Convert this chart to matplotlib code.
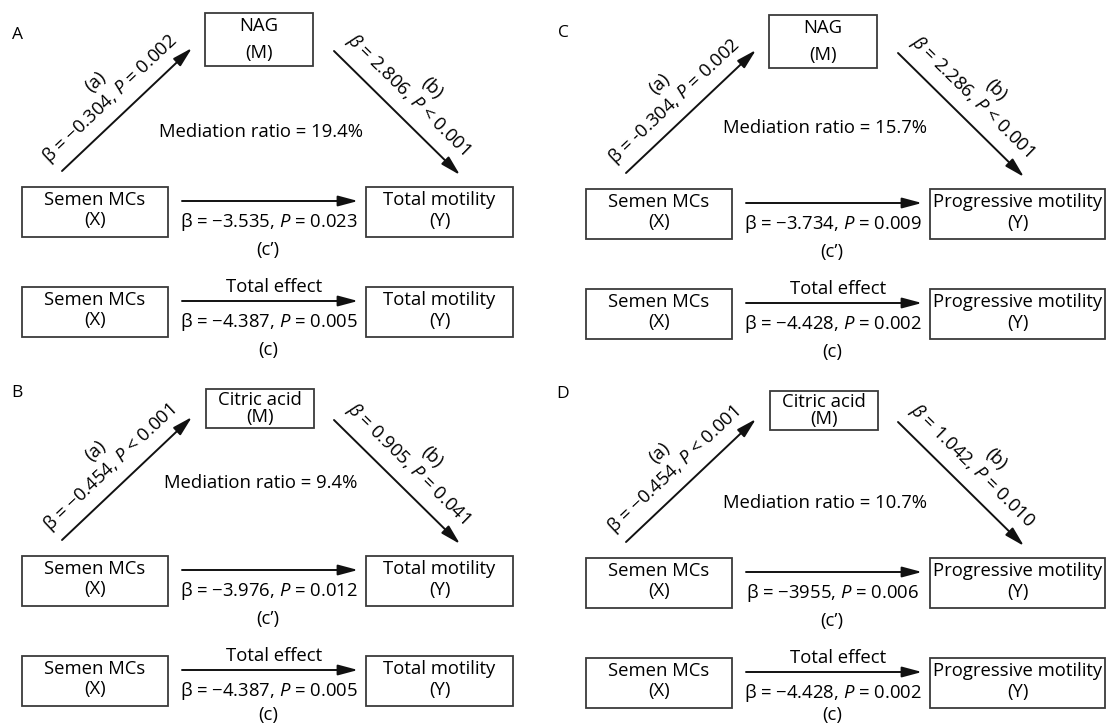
import math
import matplotlib
matplotlib.use('Agg')
import matplotlib.pyplot as plt
from matplotlib.patches import Rectangle

plt.rcParams['font.family'] = ['Open Sans', 'DejaVu Sans']
plt.rcParams['mathtext.fontset'] = 'custom'
plt.rcParams['mathtext.rm'] = 'Open Sans'
plt.rcParams['mathtext.it'] = 'Open Sans:italic'
plt.rcParams['font.size'] = 13.3

# values
panel_labels = ['A', 'B', 'C', 'D']
mediators = ['NAG', 'Citric acid', 'NAG', 'Citric acid']
outcomes = ['Total motility', 'Total motility', 'Progressive motility', 'Progressive motility']
a_beta = ['−0.304', '−0.454', '-0.304', '−0.454']
a_p = ['= 0.002', '< 0.001', '= 0.002', '< 0.001']
b_beta = ['2.806', '0.905', '2.286', '1.042']
b_p = ['< 0.001', '= 0.041', '< 0.001', '= 0.010']
direct_beta = ['−3.535', '−3.976', '−3.734', '−3955']
direct_p = ['0.023', '0.012', '0.009', '0.006']
total_beta = ['−4.387', '−4.387', '−4.428', '−4.428']
total_p = ['0.005', '0.005', '0.002', '0.002']
med_ratio = ['19.4%', '9.4%', '15.7%', '10.7%']

fig = plt.figure(figsize=(11.07, 7.27), dpi=100)
ax = fig.add_axes([0, 0, 1, 1])
ax.set_xlim(0, 1107)
ax.set_ylim(727, 0)
ax.axis('off')

EDGE = '#3a3a3a'


def box(x0, y0, x1, y1):
    ax.add_patch(Rectangle((x0, y0), x1 - x0, y1 - y0, fill=False, ec=EDGE, lw=1.3))


def arrow(x0, y0, x1, y1):
    ax.annotate('', xy=(x1, y1), xytext=(x0, y0),
                arrowprops=dict(arrowstyle='-|>,head_length=1.2,head_width=0.32',
                                color='#111111', lw=1.4, shrinkA=0, shrinkB=0,
                                mutation_scale=10))


def slope_labels(s, e, items):
    dx, dy = e[0] - s[0], e[1] - s[1]
    L = math.hypot(dx, dy)
    d = (dx / L, dy / L)
    n = (d[1], -d[0])
    ang = math.degrees(math.atan2(-dy, dx))
    mx, my = (s[0] + e[0]) / 2, (s[1] + e[1]) / 2
    for txt, along, normal in items:
        px = mx + along * d[0] + normal * n[0]
        py = my + along * d[1] + normal * n[1]
        ax.text(px, py, txt, rotation=ang, rotation_mode='anchor',
                ha='center', va='center')


origins = [(0, 0), (0, 369), (564, 2), (564, 371)]
letter_pos = [(17, 35), (17, 393), (563, 33), (563, 394)]
ratio_y = [132, 114, 126, 132]

for i in range(4):
    ox, oy = origins[i]
    ax.text(*letter_pos[i], panel_labels[i], ha='center', va='center', fontsize=12.5)

    # mediator box
    if mediators[i] == 'NAG':
        box(ox + 205, oy + 13, ox + 313, oy + 66)
        ax.text(ox + 259, oy + 26, mediators[i], ha='center', va='center')
        ax.text(ox + 259, oy + 53, '(M)', ha='center', va='center')
    else:
        box(ox + 206, oy + 20, ox + 314, oy + 59)
        ax.text(ox + 260, oy + 31, mediators[i], ha='center', va='center')
        ax.text(ox + 260, oy + 48, '(M)', ha='center', va='center')

    right = 513 if outcomes[i] == 'Total motility' else 541
    rc = (366 + right) / 2

    # path a and b
    sa, ea = (ox + 62, oy + 171), (ox + 192, oy + 48)
    sb, eb = (ox + 334, oy + 51), (ox + 460, oy + 175)
    arrow(*sa, *ea)
    arrow(*sb, *eb)
    slope_labels(sa, ea, [('β = %s, $P$ %s' % (a_beta[i], a_p[i]), -5, 19),
                          ('(a)', -4, 42)])
    slope_labels(sb, eb, [('$\\beta$ = %s, $P$ %s' % (b_beta[i], b_p[i]), -5, 21),
                          ('(b)', 7, 42)])

    ax.text(ox + 261, oy + ratio_y[i], 'Mediation ratio = ' + med_ratio[i],
            ha='center', va='center')

    # direct and total effect rows
    for r, (bet, pv) in enumerate([(direct_beta[i], direct_p[i]),
                                   (total_beta[i], total_p[i])]):
        ry = oy + 100 * r
        box(ox + 22, ry + 187, ox + 168, ry + 237)
        ax.text(ox + 95, ry + 200, 'Semen MCs', ha='center', va='center')
        ax.text(ox + 95, ry + 220, '(X)', ha='center', va='center')
        box(ox + 366, ry + 187, ox + right, ry + 237)
        ax.text(ox + rc, ry + 200, outcomes[i], ha='center', va='center')
        ax.text(ox + rc, ry + 221, '(Y)', ha='center', va='center')
        arrow(ox + 182, ry + 201, ox + 358, ry + 201)
        ax.text(ox + 269, ry + 222, 'β = %s, $P$ = %s' % (bet, pv),
                ha='center', va='center')
        ax.text(ox + 268, min(ry + 250, 715), "(c’)" if r == 0 else '(c)',
                ha='center', va='center')
    ax.text(ox + 274, oy + 287, 'Total effect', ha='center', va='center')

fig.savefig('out.png', dpi=100)
